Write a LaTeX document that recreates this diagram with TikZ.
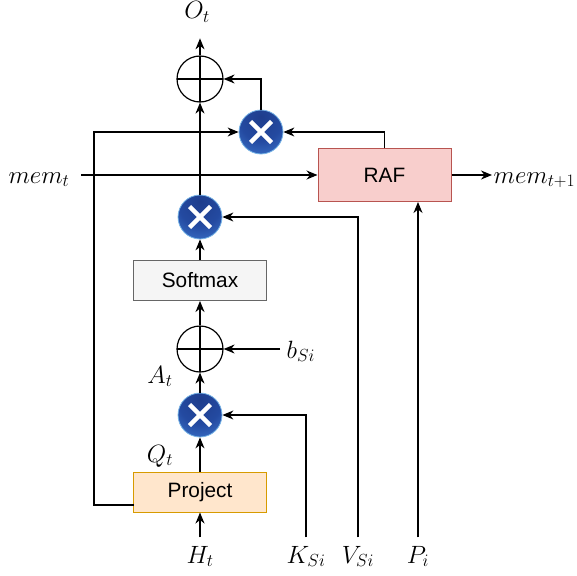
\RequirePackage{fix-cm}
\documentclass[tikz,border=0pt]{standalone}
\usepackage{fontspec}
\newfontfamily\boxfont{Liberation Sans}
\usetikzlibrary{arrows.meta}
\definecolor{rafF}{HTML}{F8CECC}\definecolor{rafD}{HTML}{B85450}
\definecolor{smF}{HTML}{F5F5F5}\definecolor{smD}{HTML}{666666}
\definecolor{prF}{HTML}{FFE6CC}\definecolor{prD}{HTML}{D79B00}
\definecolor{ballD}{RGB}{120,180,230}
\pgfdeclareradialshading{multball}{\pgfpoint{0bp}{18bp}}{%
  rgb(0bp)=(0.12,0.24,0.55);
  rgb(24bp)=(0.14,0.29,0.63);
  rgb(40bp)=(0.22,0.43,0.77);
  rgb(52bp)=(0.38,0.65,0.90);
  rgb(62bp)=(0.58,0.84,0.98);
  rgb(68bp)=(0.72,0.91,1.00);
  rgb(100bp)=(0.72,0.91,1.00)}
\begin{document}
\begin{tikzpicture}[x=1pt,y=-1pt,line width=1.2pt,
  arr/.style={-{Stealth[length=11pt,width=9pt,inset=3.5pt]}},
  box/.style={rectangle, minimum width=133pt, minimum height=40pt, inner sep=0pt,
    font=\boxfont\fontsize{20.8}{24}\selectfont, line width=1pt},
  lbl/.style={font=\fontsize{25}{30}\selectfont, inner sep=2pt},
  oplus/.style={circle, draw, minimum size=46pt, inner sep=0pt,
    path picture={\draw (path picture bounding box.north) -- (path picture bounding box.south)
      (path picture bounding box.west) -- (path picture bounding box.east);}},
  mult/.style={circle, minimum size=44pt, inner sep=0pt, shading=multball,
    draw=ballD, line width=0.8pt,
    path picture={\draw[white, line width=4.3pt]
      ([shift={(-10.5pt,-10.5pt)}]path picture bounding box.center) -- ([shift={(10.5pt,10.5pt)}]path picture bounding box.center)
      ([shift={(-10.5pt,10.5pt)}]path picture bounding box.center) -- ([shift={(10.5pt,-10.5pt)}]path picture bounding box.center);}}
]
\useasboundingbox (0,0) rectangle (577,575);
% nodes
\node[oplus] (op1) at (200,79) {};
\node[mult] (x1) at (261,132) {};
\node[box, fill=rafF, draw=rafD, minimum height=53pt] (raf) at (384.5,175) {RAF};
\node[mult] (x2) at (200,217) {};
\node[box, fill=smF, draw=smD] (sm) at (200,280.5) {Softmax};
\node[oplus] (op2) at (200,349) {};
\node[mult] (x3) at (200,415) {};
\node[box, fill=prF, draw=prD] (proj) at (200,492) {Project};
% labels
\node[lbl, anchor=base, inner ysep=15pt] (Ot) at (197,19) {$O_t$};
\node[lbl, anchor=base east, inner xsep=11pt] (memt) at (81,183) {$mem_t$};
\node[lbl, anchor=base west, inner xsep=1pt] (memt1) at (492,183) {$mem_{t+1}$};
\node[lbl, anchor=base west, inner xsep=6pt] (bs) at (280,358) {$b_{Si}$};
\node[lbl, anchor=base] (At) at (160,383) {$A_t$};
\node[lbl, anchor=base] (Qt) at (160,462) {$Q_t$};
\node[lbl, anchor=base, inner ysep=8pt] (Ht) at (200,563) {$H_t$};
\node[lbl, anchor=base, inner ysep=8pt] (Ks) at (306,563) {$K_{Si}$};
\node[lbl, anchor=base, inner ysep=8pt] (Vs) at (358,563) {$V_{Si}$};
\node[lbl, anchor=base, inner ysep=8pt] (Pi) at (418,563) {$P_i$};
\coordinate (pl) at (133.5,505);
\coordinate (lc) at (94,132);
% connectors
\draw[arr] (Ht.north) -- (proj.south);
\draw[arr] (proj.north) -- (x3.south);
\draw[arr] (x3.north) -- (op2.south);
\draw[arr] (op2.north) -- (sm.south);
\draw[arr] (sm.north) -- (x2.south);
\draw[arr] (x2.north) -- (op1.south);
\draw[arr] (op1.north) -- (op1.north |- Ot.south);
\draw[arr] (Ks.north) |- (x3.east);
\draw[arr] (Vs.north) |- (x2.east);
\draw[arr] (Pi.north) -- (raf.south -| Pi.north);
\draw[arr] (bs.west |- op2.east) -- (op2.east);
\draw[arr] (memt.east |- raf.west) -- (raf.west);
\draw[arr] (raf.east) -- (raf.east -| memt1.west);
\draw[arr] (raf.north) |- (x1.east);
\draw[arr] (x1.north) |- (op1.east);
\draw[arr] (pl) -| (lc) -- (x1.west);
\end{tikzpicture}
\end{document}
